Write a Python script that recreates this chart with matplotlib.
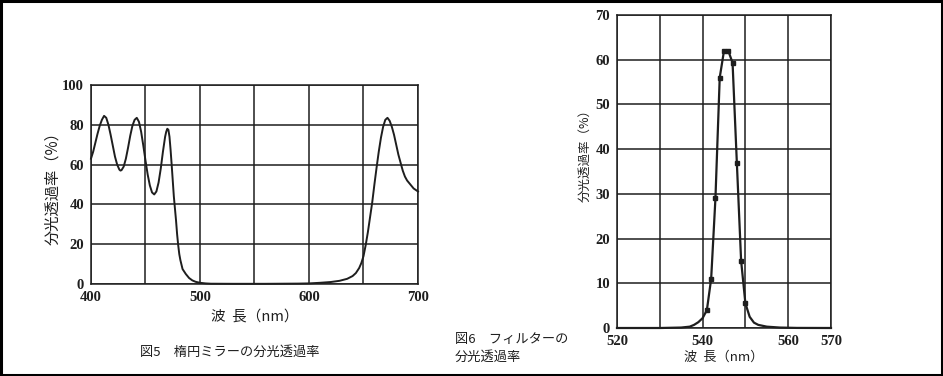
import matplotlib
matplotlib.use("Agg")
import matplotlib.pyplot as plt
from matplotlib.patches import Rectangle

# ---- Data: Fig.5 ellipsoidal mirror spectral transmittance ----
mirror_wl = [400, 402, 404, 406, 408, 410, 412, 414, 416, 418, 420, 422, 424, 426, 427,
             428, 430, 432, 434, 436, 438, 440, 442, 444, 446, 448, 450, 452, 454, 456,
             458, 460, 462, 464, 466, 468, 469, 470, 471, 472, 473, 474, 475, 476, 477,
             478, 479, 480, 481, 482, 484, 487, 490, 493, 496, 500, 505, 510, 530, 560,
             590, 600, 610, 620, 628, 635, 640, 643, 646, 648, 650, 652, 654, 656, 658,
             660, 662, 664, 666, 668, 670, 672, 674, 676, 678, 680, 682, 684, 686, 688,
             690, 693, 696, 700]
mirror_T = [63, 66.5, 71, 75.5, 79.5, 82.5, 84.5, 83.5, 80, 75, 69.5, 64, 60, 57.5, 57,
            57.2, 59, 63, 68.5, 74.5, 79.5, 82.5, 83.5, 81.5, 76.5, 69.5, 62, 55, 49.5, 46,
            45, 46.5, 51, 58, 66.5, 74, 76.5, 78, 77.5, 74, 67.5, 60, 52, 44, 38,
            32, 25, 19.5, 15, 12, 7.5, 5, 3, 1.8, 1.1, 0.6, 0.3, 0.15, 0.1, 0.1,
            0.2, 0.3, 0.6, 1.0, 1.6, 2.6, 4, 5.5, 8, 10.5, 14, 19.5, 26, 33.5, 41,
            50, 58.5, 66.5, 73.5, 79, 82.5, 83.5, 82, 79, 75, 70, 65, 61, 57, 54,
            52, 50, 48, 46.5]
mirror_xticks = [400, 450, 500, 550, 600, 650, 700]
mirror_xlabels = ['400', '', '500', '', '600', '', '700']
mirror_yticks = [0, 20, 40, 60, 80, 100]

# ---- Data: Fig.6 filter spectral transmittance ----
filter_wl = [520, 525, 530, 535, 537, 538, 539, 540, 541, 542, 543, 544, 545, 546, 547,
             548, 549, 550, 551, 552, 553, 555, 558, 562, 570]
filter_T = [0, 0, 0, 0.1, 0.3, 0.7, 1.3, 2.2, 4, 11, 29, 56, 62, 62, 59.3,
            37, 15, 5.5, 2.5, 1.2, 0.7, 0.3, 0.1, 0.02, 0]
filter_marked_wl = [541, 542, 543, 544, 545, 546, 547, 548, 549, 550]
filter_marked_T = [4, 11, 29, 56, 62, 62, 59.3, 37, 15, 5.5]
filter_xticks = [520, 530, 540, 550, 560, 570]
filter_xlabels = ['520', '', '540', '', '560', '570']
filter_yticks = [0, 10, 20, 30, 40, 50, 60, 70]

JP = ['Noto Sans CJK JP', 'DejaVu Sans']
NUM = ['Liberation Serif', 'DejaVu Serif']
INK = '#1e1e1e'

plt.rcParams['font.family'] = NUM

fig = plt.figure(figsize=(9.43, 3.76), dpi=100)

def style(ax, xticks, xlabels, yticks, xlim, ylim):
    ax.set_xlim(*xlim)
    ax.set_ylim(*ylim)
    ax.set_xticks(xticks)
    ax.set_xticklabels(xlabels)
    ax.set_yticks(yticks)
    ax.set_yticklabels([str(v) for v in yticks])
    ax.grid(True, color=INK, lw=1.1)
    ax.set_axisbelow(True)
    for s in ax.spines.values():
        s.set_color(INK)
        s.set_linewidth(1.1)
    ax.tick_params(length=0, pad=5, labelsize=10.5, colors=INK)
    for lab in ax.get_xticklabels() + ax.get_yticklabels():
        lab.set_fontweight('bold')

# Left chart
ax1 = fig.add_axes([91/943, 1-284/376, (418-91)/943, (284-85)/376])
ax1.plot(mirror_wl, mirror_T, color=INK, lw=1.4, clip_on=False)
style(ax1, mirror_xticks, mirror_xlabels, mirror_yticks, (400, 700), (0, 100))
ax1.set_xlabel('波  長（nm）', family=JP, fontsize=10.5, color=INK, labelpad=4)
ax1.set_ylabel('分光透過率（%）', family=JP, fontsize=11, color=INK)
ax1.yaxis.set_label_coords(-0.092, 0.5)
fig.text(140/943, 1-352/376, '図5　楕円ミラーの分光透過率', family=JP, fontsize=9.5,
         color=INK, va='center', ha='left')

# Right chart
ax2 = fig.add_axes([617/943, 1-328/376, (831-617)/943, (328-15)/376])
ax2.plot(filter_wl, filter_T, color=INK, lw=1.6, clip_on=False)
ax2.plot(filter_marked_wl, filter_marked_T, ls='none', marker='s', ms=3, color=INK)
style(ax2, filter_xticks, filter_xlabels, filter_yticks, (520, 570), (0, 70))
ax2.set_xlabel('波  長（nm）', family=JP, fontsize=9.5, color=INK, labelpad=2)
ax2.set_ylabel('分光透過率（%）', family=JP, fontsize=9, color=INK)
ax2.yaxis.set_label_coords(-0.117, 0.56)
fig.text(455/943, 1-339/376, '図6　フィルターの', family=JP, fontsize=9.5,
         color=INK, va='center', ha='left')
fig.text(455/943, 1-357/376, '分光透過率', family=JP, fontsize=9.5,
         color=INK, va='center', ha='left')

# Outer frame
fig.patches.append(Rectangle((0.001, 0.003), 0.998, 0.995, transform=fig.transFigure,
                             fill=False, edgecolor='black', lw=2.2))

fig.savefig('out.png', dpi=100, facecolor='white')
